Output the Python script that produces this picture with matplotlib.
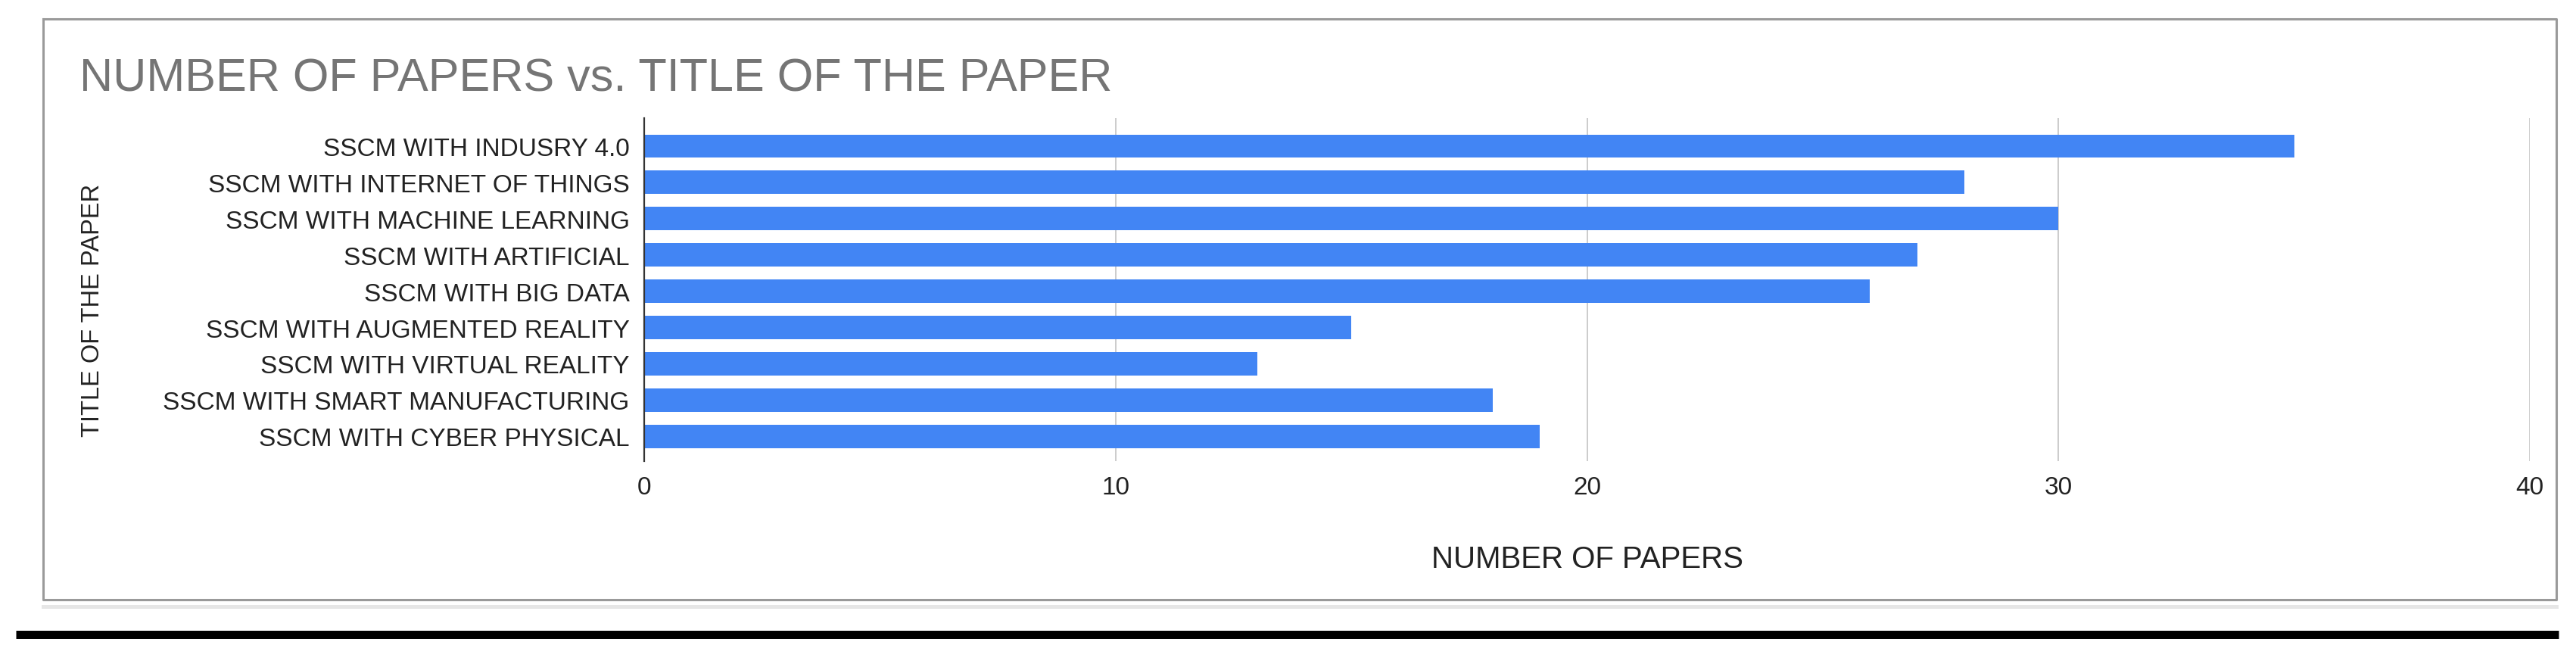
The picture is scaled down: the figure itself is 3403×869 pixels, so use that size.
import matplotlib
matplotlib.use('Agg')
import matplotlib.pyplot as plt
from matplotlib.lines import Line2D

plt.rcParams['font.family'] = ['Liberation Sans', 'DejaVu Sans']

titles = [
    'SSCM WITH INDUSRY 4.0',
    'SSCM WITH INTERNET OF THINGS',
    'SSCM WITH MACHINE LEARNING',
    'SSCM WITH ARTIFICIAL',
    'SSCM WITH BIG DATA',
    'SSCM WITH AUGMENTED REALITY',
    'SSCM WITH VIRTUAL REALITY',
    'SSCM WITH SMART MANUFACTURING',
    'SSCM WITH CYBER PHYSICAL',
]
papers = [35, 28, 30, 27, 26, 15, 13, 18, 19]
xticks = [0, 10, 20, 30, 40]

fig = plt.figure(figsize=(34.03, 8.7), dpi=100)
ax = fig.add_axes([0.2501, 0.2989, 0.7320, 0.5207])

pos = list(range(len(titles)))
ax.barh(pos, papers, height=0.64, color='#4285f4', zorder=3)

ax.set_xlim(0, 40)
ax.set_ylim(8.68, -0.77)
ax.set_xticks(xticks)
ax.set_yticks(pos)
ax.set_yticklabels(titles, fontsize=24, color='#222222')
ax.tick_params(axis='x', length=0, pad=14, labelsize=24, labelcolor='#222222')
ax.tick_params(axis='y', length=0, pad=14)
ax.grid(axis='x', color='#cccccc', linewidth=1.4, zorder=0)

for side in ['top', 'right', 'bottom']:
    ax.spines[side].set_visible(False)
ax.spines['left'].set_color('#333333')
ax.spines['left'].set_linewidth(1.6)
ax.spines['left'].set_zorder(4)

ax.set_xlabel('NUMBER OF PAPERS', fontsize=29, color='#222222', va='center')
ax.xaxis.set_label_coords(0.5, -0.285)
ax.set_ylabel('TITLE OF THE PAPER', fontsize=23.5, color='#222222', va='center')
ax.yaxis.set_label_coords(-0.2926, 0.441)

fig.text(0.0309, 0.861, 'NUMBER OF PAPERS vs. TITLE OF THE PAPER',
         fontsize=44, color='#757575', va='baseline', ha='left')

# chart frame and page rules
x0, x1, yt, yb = 0.01675, 0.99236, 0.97011, 0.0885
fig.add_artist(Line2D([x0, x1, x1, x0, x0], [yt, yt, yb, yb, yt],
                      transform=fig.transFigure, color='#9a9a9a', linewidth=2.2))
fig.add_artist(Line2D([x0, x1], [0.0776, 0.0776], transform=fig.transFigure,
                      color='#e6e6e6', linewidth=3.6))
fig.add_artist(Line2D([0.00617, 0.99324], [0.0362, 0.0362], transform=fig.transFigure,
                      color='black', linewidth=7.9, solid_capstyle='butt'))

fig.savefig('out.png', dpi=100)
